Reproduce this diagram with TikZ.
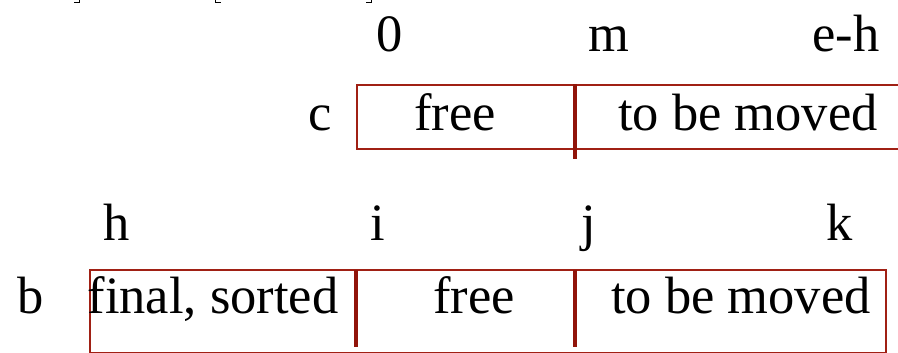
\documentclass[tikz,border=0pt]{standalone}
\usepackage{fontspec}
\setmainfont{Liberation Serif}
\definecolor{boxred}{RGB}{160,32,20}
\definecolor{barred}{RGB}{145,20,10}
\begin{document}
\begin{tikzpicture}[x=1pt,y=-1pt,
  lbl/.style={font=\fontsize{52.5}{60}\selectfont, inner sep=0pt, anchor=base},
  cell/.style={draw=boxred, line width=1.6pt, inner sep=0pt},
  bar/.style={draw=barred, line width=4.5pt},
  frag/.style={draw=black, line width=1.8pt}]
\useasboundingbox (0,0) rectangle (898,353);
% cut-off glyph fragments at the top edge
\draw[frag] (74,2.5) -- (80,2.5) (79.5,0) -- (79.5,3);
\draw[frag] (215,2.5) -- (221,2.5) (215.5,0) -- (215.5,3);
\draw[frag] (366,2.5) -- (372,2.5) (371.5,0) -- (371.5,3);
% top array c
\node[cell, minimum width=600pt, minimum height=64pt, anchor=north west] (cbox) at (356,84) {};
\coordinate (ctop) at (575,84);
\coordinate (cbot) at (575,159);
\draw[bar] (ctop) -- (cbot);
\node[lbl] (c0) at (390,52) {0};
\node[lbl] (cm) at (609,52) {m};
\node[lbl] (ceh) at (846,52) {e-h};
\node[lbl] (cname) at (320,131) {c};
\node[lbl] (cfree) at (455,131) {free};
\node[lbl] (cmove) at (748,131) {to be moved};
% bottom array b
\node[cell, minimum width=796pt, minimum height=83pt, anchor=north west] (bbox) at (89,269) {};
\coordinate (itop) at (356,270);
\coordinate (ibot) at (356,347);
\coordinate (jtop) at (575,270);
\coordinate (jbot) at (575,347);
\draw[bar] (itop) -- (ibot);
\draw[bar] (jtop) -- (jbot);
\node[lbl] (bh) at (117,240) {h};
\node[lbl] (bi) at (378,240) {i};
\node[lbl] (bj) at (589,240) {j};
\node[lbl] (bk) at (840,240) {k};
\node[lbl] (bname) at (31,313) {b};
\node[lbl] (bfinal) at (213,313) {final, sorted};
\node[lbl] (bfree) at (474,313) {free};
\node[lbl] (bmove) at (741,313) {to be moved};
\end{tikzpicture}
\end{document}
